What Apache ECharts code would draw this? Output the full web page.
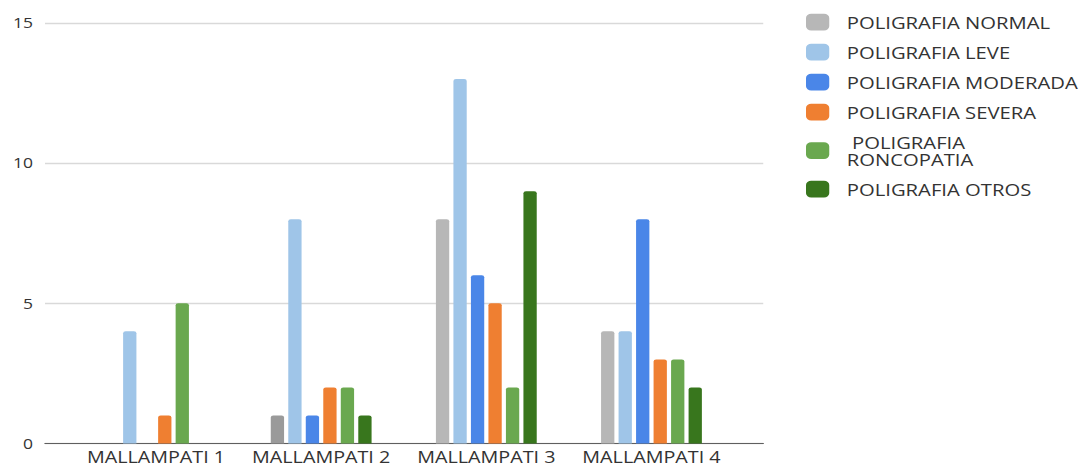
<!DOCTYPE html>
<html>
<head>
<meta charset="utf-8">
<script src="https://cdn.jsdelivr.net/npm/echarts@6/dist/echarts.min.js"></script>
<style>
  html, body { margin: 0; padding: 0; background: #fff; overflow: hidden; }
  /* chart is laid out narrower and widened horizontally */
  #chart { width: 864.8px; height: 466px; transform: scaleX(1.25); transform-origin: 0 0; }
</style>
</head>
<body>
<div id="chart"></div>
<script>
const categories = ['MALLAMPATI 1', 'MALLAMPATI 2', 'MALLAMPATI 3', 'MALLAMPATI 4'];
const seriesNames = [
  'POLIGRAFIA NORMAL',
  'POLIGRAFIA LEVE',
  'POLIGRAFIA MODERADA',
  'POLIGRAFIA SEVERA',
  ' POLIGRAFIA RONCOPATIA',
  'POLIGRAFIA OTROS'
];
const normal    = [0, 1, 8, 4];
const leve      = [4, 8, 13, 4];
const moderada  = [0, 1, 6, 8];
const severa    = [1, 2, 5, 3];
const roncopatia = [5, 2, 2, 3];
const otros     = [0, 1, 9, 2];
const yTicks = { min: 0, max: 15, interval: 5 };

const values = [normal, leve, moderada, severa, roncopatia, otros];
const colors = ['#b7b7b7', '#9fc5e8', '#4a86e8', '#ef7f31', '#6aa84f', '#38761d'];

const FONT = '"Open Sans", "DejaVu Sans", sans-serif';

const chart = echarts.init(document.getElementById('chart'), null, { renderer: 'svg' });

chart.setOption({
  animation: false,
  backgroundColor: '#ffffff',
  textStyle: { fontFamily: FONT },
  grid: [
    // frame grid: gridlines, value labels and baseline
    { left: 36, right: 254.4, top: 23, bottom: 22.5 },
    // category grid holding the bars
    { left: 58.76, right: 277.76, top: 23, bottom: 22.5 }
  ],
  xAxis: [
    {
      gridIndex: 0, type: 'value', min: 0, max: 1,
      axisLine: { show: true, onZero: false, lineStyle: { color: '#5f5f5f', width: 1.2 } },
      axisTick: { show: false }, axisLabel: { show: false }, splitLine: { show: false }
    },
    {
      gridIndex: 1, type: 'category', data: categories,
      axisLine: { show: false }, axisTick: { show: false },
      axisLabel: { interval: 0, color: '#333', fontSize: 15.8, fontFamily: FONT, margin: 6.5, lineHeight: 14 }
    }
  ],
  yAxis: [
    {
      gridIndex: 0, type: 'value', min: yTicks.min, max: yTicks.max, interval: yTicks.interval,
      axisLine: { show: false }, axisTick: { show: false },
      axisLabel: { color: '#333', fontSize: 14, fontFamily: FONT, margin: 9.6 },
      splitLine: { show: true, lineStyle: { color: '#d9d9d9', width: 1.3 } }
    },
    {
      gridIndex: 1, type: 'value', min: yTicks.min, max: yTicks.max, interval: yTicks.interval,
      show: false
    }
  ],
  legend: {
    orient: 'vertical',
    left: 644.8,
    top: 13.65,
    padding: 0,
    itemWidth: 18.6,
    itemHeight: 16.7,
    itemGap: 13,
    icon: 'roundRect',
    data: seriesNames,
    formatter: function (name) { return name.replace(' RONCOPATIA', '\nRONCOPATIA'); },
    textStyle: { color: '#333', fontSize: 16.2, lineHeight: 17, fontFamily: FONT, padding: [0, 0, 0, 9] }
  },
  series: seriesNames.map(function (name, i) {
    return {
      name: name,
      type: 'bar',
      xAxisIndex: 1,
      yAxisIndex: 1,
      data: values[i],
      barWidth: 10.64,
      barGap: '31.6%',
      itemStyle: {
        // the MALLAMPATI 2 normal bar is shown in a darker grey
        color: i === 0
          ? function (p) { return p.dataIndex === 1 ? '#9a9a9a' : colors[0]; }
          : colors[i],
        borderRadius: [2, 2, 0, 0]
      }
    };
  }),
  color: colors
});
</script>
</body>
</html>
